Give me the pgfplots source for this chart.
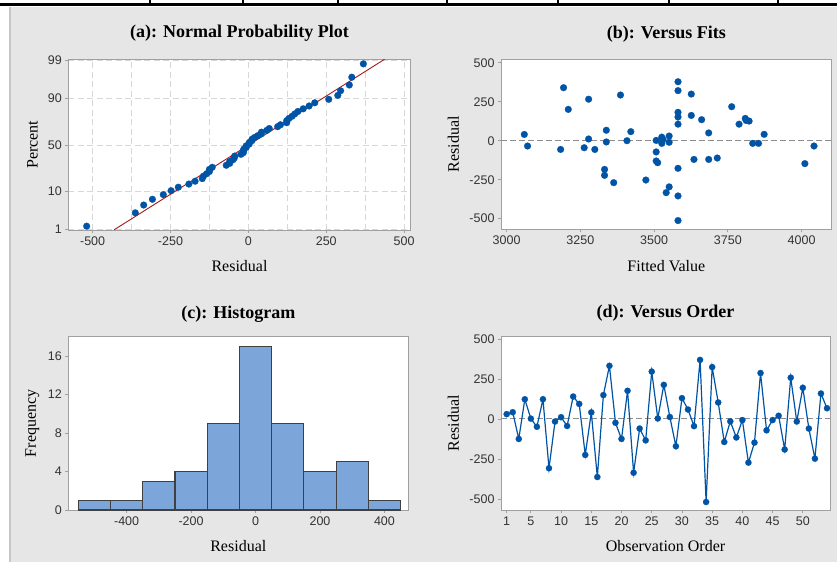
\documentclass[border=0pt]{standalone}
\usepackage{pgfplots}
\pgfplotsset{compat=1.18}
\usepackage{fontspec}
\setmainfont{Liberation Serif}
\newfontfamily\tickfont{Liberation Sans}
\definecolor{mtblue}{RGB}{0,84,166}
\definecolor{bgc}{RGB}{230,230,230}
\definecolor{framec}{RGB}{160,160,160}
\definecolor{histfill}{RGB}{124,166,217}
\definecolor{histedge}{RGB}{64,64,64}
\definecolor{fitred}{RGB}{165,25,25}
\definecolor{gridc}{RGB}{215,215,215}
\definecolor{refc}{RGB}{140,140,140}
\pgfplotsset{
  mt/.style={
    scale only axis,
    anchor=south west,
    axis line style={draw=framec, line width=0.8pt},
    axis background/.style={fill=white},
    tick align=outside,
    major tick length=3pt,
    minor tick length=0pt,
    tick style={draw=framec, line width=0.8pt},
    xtick pos=bottom, ytick pos=left,
    tick label style={font=\tickfont\fontsize{12.5}{14}\selectfont, text=black!80},
    every axis title/.style={at={(axis description cs:0.5,1)}, anchor=center, font=\bfseries\fontsize{18}{21}\selectfont},
    every axis x label/.style={at={(axis description cs:0.5,0)}, anchor=center, yshift=-36.5pt, font=\fontsize{16}{19}\selectfont},
    every axis y label/.style={rotate=90, anchor=center, font=\fontsize{16}{19}\selectfont},
  },
  mk/.style={color=mtblue, only marks, mark=*, mark size=3.4pt, mark options={draw=mtblue, fill=mtblue, line width=0.2pt}},
}
\begin{document}
\begin{tikzpicture}
\useasboundingbox (0,0) rectangle (837pt,562pt);
\fill[white] (0,0) rectangle (837pt,562pt);
\fill[bgc] (10pt,0) rectangle (837pt,554.7pt);
\draw[draw=black!22, line width=2pt] (10.3pt,0) -- (10.3pt,554.7pt);
\draw[black, line width=2.7pt] (0,557.3pt) -- (837pt,557.3pt);
\foreach \xx in {150,243,338,447,558,669,778}{\draw[black, line width=2.5pt] (\xx pt,557pt) -- (\xx pt,562pt);}

% (a) Normal probability plot
\begin{axis}[mt, at={(68.3pt,332pt)}, width=342.4pt, height=170.7pt,
  xmin=-578, xmax=521, ymin=-2.335, ymax=2.355,
  xtick={-500,-250,0,250,500}, xticklabels={-500,-250,0,250,500},
  minor xtick={-375,-125,125,375},
  ytick={-2.3263,-1.2816,0,1.2816,2.3263}, yticklabels={1,10,50,90,99},
  xmajorgrids, xminorgrids, ymajorgrids,
  grid style={draw=gridc, dash pattern=on 6pt off 3.5pt, line width=0.9pt},
  minor grid style={draw=gridc, dash pattern=on 6pt off 3.5pt, line width=0.9pt},
  title={(a): Normal Probability Plot}, title style={yshift=26pt},
  xlabel={Residual}, ylabel={Percent},
  ylabel style={at={(axis description cs:-0.105,0.5)}},
]
\addplot[fitred, line width=0.9pt] coordinates {(-431,-2.33) (437,2.355)};
\addplot[mk] coordinates {
(-519,-2.230) (-363,-1.863) (-336,-1.649) (-308,-1.491) (-273,-1.363) (-248,-1.255)
(-225,-1.160) (-191,-1.073) (-171,-0.995) (-148,-0.922) (-144,-0.854) (-134,-0.789)
(-125,-0.728) (-125,-0.669) (-116,-0.612) (-71,-0.557) (-60,-0.504) (-60,-0.453)
(-49,-0.402) (-45,-0.353) (-44,-0.304) (-24,-0.256) (-16,-0.209) (-16,-0.162)
(-15,-0.116) (-7,-0.069) (-7,-0.023) (2,0.023) (3,0.069) (11,0.116) (12,0.162)
(20,0.209) (30,0.256) (41,0.304) (42,0.353) (59,0.402) (67,0.453) (94,0.504)
(103,0.557) (123,0.612) (123,0.669) (130,0.728) (140,0.789) (149,0.854) (159,0.922)
(176,0.995) (195,1.073) (213,1.160) (258,1.255) (287,1.363) (296,1.491) (324,1.649)
(332,1.863) (369,2.230)};
\end{axis}

% (b) Versus fits
\begin{axis}[mt, at={(501pt,332.7pt)}, width=330.7pt, height=170pt,
  xmin=2981, xmax=4102, ymin=-568, ymax=522,
  xtick={3000,3250,3500,3750,4000}, xticklabels={3000,3250,3500,3750,4000},
  ytick={-500,-250,0,250,500}, yticklabels={-500,-250,0,250,500},
  title={(b): Versus Fits}, title style={yshift=25.3pt},
  xlabel={Fitted Value}, ylabel={Residual},
  ylabel style={at={(axis description cs:-0.1442,0.5)}},
]
\addplot[refc, line width=1pt, dash pattern=on 6pt off 3pt] coordinates {(2981,0) (4102,0)};
\addplot[mk] coordinates {
(3060,40) (3071,-34) (3183,-56) (3193,340) (3209,201) (3263,-45) (3278,266) (3278,11)
(3299,-56) (3338,67) (3338,-8) (3332,-184) (3332,-222) (3363,-269) (3386,293) (3408,0)
(3421,58) (3472,-252) (3507,2) (3507,-72) (3507,-130) (3512,-141) (3526,23) (3526,-17)
(3541,-333) (3551,-296) (3551,30) (3551,-10) (3581,378) (3581,321) (3581,182) (3581,152)
(3581,106) (3581,-177) (3581,-354) (3581,-512) (3626,299) (3626,162) (3635,-120) (3661,135)
(3685,50) (3685,-120) (3714,-111) (3763,218) (3788,106) (3809,143) (3822,126) (3834,-17)
(3854,-17) (3873,41) (4011,-147) (4042,-34) (3530,8) (3812,130)};
\end{axis}

% (c) Histogram
\begin{axis}[mt, at={(68.3pt,52pt)}, width=340pt, height=173.3pt,
  xmin=-581, xmax=474, ymin=0, ymax=18,
  xtick={-400,-200,0,200,400}, xticklabels={-400,-200,0,200,400},
  ytick={0,4,8,12,16}, yticklabels={0,4,8,12,16},
  title={(c): Histogram}, title style={yshift=22.7pt},
  xlabel={Residual}, ylabel={Frequency},
  ylabel style={at={(axis description cs:-0.1059,0.5)}},
]
\addplot[ybar interval, fill=histfill, draw=histedge, line width=1.1pt] coordinates {
(-550,1) (-450,1) (-350,3) (-250,4) (-150,9) (-50,17) (50,9) (150,4) (250,5) (350,1) (450,1)};
\end{axis}

% (d) Versus order
\begin{axis}[mt, at={(501pt,52pt)}, width=329pt, height=173.3pt,
  xmin=0.06, xmax=54.5, ymin=-569, ymax=514, clip=false,
  xtick={1,5,10,15,20,25,30,35,40,45,50}, xticklabels={1,5,10,15,20,25,30,35,40,45,50},
  ytick={-500,-250,0,250,500}, yticklabels={-500,-250,0,250,500},
  title={(d): Versus Order}, title style={yshift=23.7pt},
  xlabel={Observation Order}, ylabel={Residual},
  ylabel style={at={(axis description cs:-0.145,0.5)}},
]
\addplot[refc, line width=1pt, dash pattern=on 6pt off 3pt] coordinates {(0.06,0) (54.5,0)};
\addplot[mtblue, line width=1.2pt, mark=*, mark size=3.1pt, mark options={draw=mtblue, fill=mtblue, line width=0.2pt}] coordinates {
(1,30) (2,42) (3,-125) (4,123) (5,2) (6,-49) (7,123) (8,-308) (9,-16) (10,11)
(11,-44) (12,140) (13,94) (14,-225) (15,41) (16,-363) (17,149) (18,332) (19,-24) (20,-125)
(21,176) (22,-336) (23,-60) (24,-134) (25,296) (26,3) (27,213) (28,12) (29,-171) (30,130)
(31,59) (32,-45) (33,369) (34,-519) (35,324) (36,103) (37,-144) (38,-15) (39,-116) (40,-7)
(41,-273) (42,-148) (43,287) (44,-71) (45,-7) (46,20) (47,-191) (48,258) (49,-16) (50,195)
(51,-60) (52,-248) (53,159) (54,67)};
\end{axis}
\end{tikzpicture}
\end{document}
